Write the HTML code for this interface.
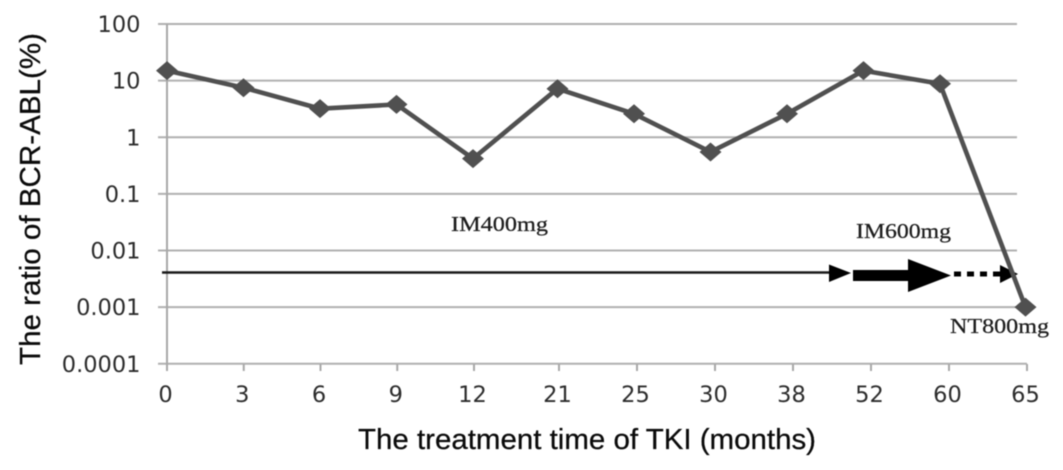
<!DOCTYPE html>
<html>
<head>
<meta charset="utf-8">
<title>BCR-ABL ratio chart</title>
<style>
html,body{margin:0;padding:0;background:#fff;width:1063px;height:470px;overflow:hidden}
svg{display:block;filter:blur(0.5px)}
.tick{font-family:"DejaVu Sans",sans-serif;font-size:22.5px;fill:#2c2c2c}
.title{font-family:"Liberation Sans",sans-serif;font-size:29px;fill:#0a0a0a;stroke:#0a0a0a;stroke-width:0.25px}
.note{font-family:"Liberation Serif",serif;font-size:21.5px;fill:#1c1c1c;stroke:#1c1c1c;stroke-width:0.25px}
</style>
</head>
<body>
<svg id="chart" xmlns="http://www.w3.org/2000/svg" width="1063" height="470" viewBox="0 0 1063 470">
  <rect width="1063" height="470" fill="#fff"/>
  <g id="grid"></g>
  <g id="axes"></g>
  <g id="ylabels"></g>
  <g id="xlabels"></g>

  <g>
    <g>
      <line x1="162" y1="272.5" x2="831" y2="272.5" stroke="#1a1a1a" stroke-width="2.6"/>
      <polygon points="829,264.5 851,273 829,282" fill="#000"/>
    </g>
    <polygon points="853,270 908,270 908,259 951,275.5 908,292 908,281 853,281" fill="#000"/>
    <g>
      <line x1="954" y1="274" x2="1001" y2="274" stroke="#000" stroke-width="5" stroke-dasharray="7 6"/>
      <polygon points="1000,265 1018,274 1000,283" fill="#000"/>
    </g>
  </g>

  <polyline id="series-line" fill="none" stroke="#505050" stroke-width="4.6" stroke-linejoin="round"/>
  <g id="markers"></g>

  <text class="note" x="451" y="231" textLength="97" lengthAdjust="spacingAndGlyphs">IM400mg</text>
  <text class="note" x="856" y="238" textLength="95" lengthAdjust="spacingAndGlyphs">IM600mg</text>
  <text class="note" x="950" y="333" textLength="99" lengthAdjust="spacingAndGlyphs">NT800mg</text>

  <text class="title" x="358" y="449" textLength="458" lengthAdjust="spacingAndGlyphs">The treatment time of TKI (months)</text>
  <text class="title" transform="translate(40,365) rotate(-90)" textLength="332" lengthAdjust="spacingAndGlyphs">The ratio of BCR-ABL(%)</text>
</svg>

<script>
const categories = ["0","3","6","9","12","21","25","30","38","52","60","65"];
const ratioValues = [15, 7.5, 3.2, 3.8, 0.42, 7.2, 2.6, 0.55, 2.6, 15, 8.8, 0.001];
const yTicks = [100, 10, 1, 0.1, 0.01, 0.001, 0.0001];
const yTickLabels = ["100","10","1","0.1","0.01","0.001","0.0001"];

const SVG_NS = "http://www.w3.org/2000/svg";

function yScale(v) {
  return 24 + (2 - Math.log10(v)) * 56.63;
}
function xPoint(i) {
  return 167 + 76.5 * i + (i >= 5 ? 8 : 0) + (i >= 11 ? 9 : 0);
}
function xTick(i) {
  return i < 5 ? 167 + 76.75 * i : 559 + 78 * (i - 5);
}
function make(tag, attrs, parentId) {
  const el = document.createElementNS(SVG_NS, tag);
  Object.keys(attrs).forEach(function (k) { el.setAttribute(k, attrs[k]); });
  document.getElementById(parentId).appendChild(el);
  return el;
}

yTicks.forEach(function (t, i) {
  const last = i === yTicks.length - 1;
  const y = yScale(t);
  const line = make("line", {x1: 158, x2: last ? 1027 : 1017, y1: y, y2: y, stroke: "#b0b0b0", "stroke-width": 2}, "grid");
  
  
  const label = make("text", {x: 140.5, y: y + 8, "text-anchor": "end", "class": "tick"}, "ylabels");
  label.textContent = yTickLabels[i];
  
  
});

const yAxis = make("line", {x1: 167, x2: 167, y1: yScale(yTicks[0]), y2: 370, stroke: "#a8a8a8", "stroke-width": 2}, "axes");



categories.forEach(function (c, i) {
  const x = xTick(i);
  const tick = make("line", {x1: x, x2: x, y1: 364, y2: 371, stroke: "#a8a8a8", "stroke-width": 2}, "axes");
  
  
  const label = make("text", {x: x - 1.5, y: 402, "text-anchor": "middle", "class": "tick"}, "xlabels");
  label.textContent = c;
  
  
});

const coords = ratioValues.map(function (v, i) { return [xPoint(i), yScale(v)]; });
document.getElementById("series-line").setAttribute("points", coords.map(function (p) { return p.join(","); }).join(" "));

coords.forEach(function (p) {
  const pts = [[p[0] - 11, p[1]], [p[0], p[1] - 9.5], [p[0] + 11, p[1]], [p[0], p[1] + 9.5]];
  const marker = make("polygon", {points: pts.map(function (q) { return q.join(","); }).join(" "), fill: "#505050"}, "markers");
  
  
});
</script>
</body>
</html>
